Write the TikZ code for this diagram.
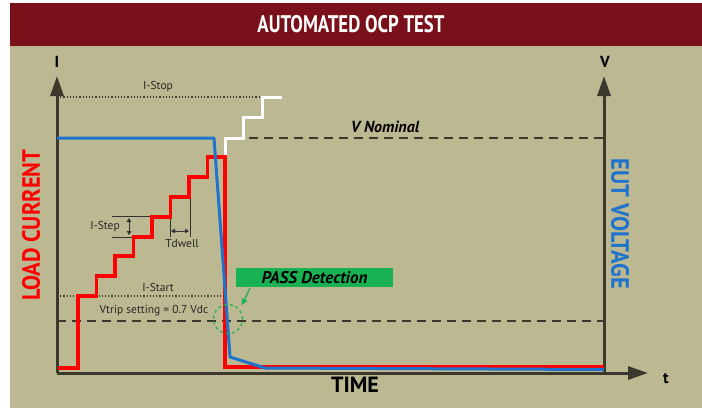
\documentclass[tikz,border=0pt]{standalone}
\usepackage{fontspec}
\setmainfont{PT Sans}
\usetikzlibrary{arrows.meta}
\definecolor{barred}{RGB}{122,17,26}
\definecolor{beige}{RGB}{188,184,146}
\definecolor{axisc}{RGB}{60,56,46}
\definecolor{curblue}{RGB}{30,115,205}
\definecolor{passgreen}{RGB}{24,178,82}
\tikzset{
  axisline/.style={draw=axisc, line width=3pt},
  axtip/.style={-{Triangle[length=20pt,width=13pt]}},
  redline/.style={draw=red, line width=3.5pt, line join=miter},
  blueline/.style={draw=curblue, line width=3pt, line join=round},
  whiteline/.style={draw=white, line width=3pt},
  dotline/.style={draw=axisc, line width=1.2pt, dotted},
  dashline/.style={draw=axisc, line width=1.6pt, dash pattern=on 9pt off 6pt},
  thinline/.style={draw=black!80, line width=0.8pt},
  smalltxt/.style={font=\fontsize{11.5}{13}\selectfont, text=black!85, inner sep=0pt},
  sidelab/.style={font=\bfseries\fontsize{25}{27}\selectfont, inner sep=0pt},
}
\begin{document}
\begin{tikzpicture}[x=1pt,y=-1pt]
\useasboundingbox (0,0) rectangle (702,408);
\fill[white] (0,0) rectangle (702,408);
\fill[barred] (10,3) rectangle (702,46);
\fill[beige] (10,46) rectangle (702,408);
\node[text=white, font=\bfseries\fontsize{24}{26}\selectfont, inner sep=0pt] (title) at (351,24) {\scalebox{0.78}[1]{AUTOMATED OCP TEST}};

% reference lines
\coordinate (istopL) at (57,97);
\coordinate (istopR) at (262,97);
\draw[dotline] (istopL) -- (istopR);
\node[smalltxt] (istop) at (158,87) {I-Stop};
\coordinate (vnomL) at (249,138);
\coordinate (vnomR) at (604,138);
\draw[dashline] (vnomL) -- (vnomR);
\node[font=\bfseries\itshape\fontsize{16}{18}\selectfont, inner sep=0pt] (vnom) at (385,127) {V Nominal};
\coordinate (istartL) at (57,296);
\coordinate (istartR) at (223,296);
\draw[dotline] (istartL) -- (istartR);
\node[smalltxt] (istart) at (158,287) {I-Start};
\coordinate (vtripL) at (57,321);
\coordinate (vtripR) at (604,321);
\draw[dashline] (vtripL) -- (vtripR);
\node[smalltxt] (vtrip) at (154,311) {Vtrip setting = 0.7 Vdc};

% I-Step annotation
\coordinate (is1) at (112,216); \coordinate (is2) at (152,216);
\coordinate (is3) at (112,237); \coordinate (is4) at (133,237);
\draw[thinline] (is1) -- (is2);
\draw[thinline] (is3) -- (is4);
\coordinate (isa) at (129,218); \coordinate (isb) at (129,235);
\draw[thinline, {Triangle[length=4pt,width=4.5pt]}-{Triangle[length=4pt,width=4.5pt]}] (isa) -- (isb);
\node[smalltxt] (istep) at (105,227) {I-Step};

% Tdwell annotation
\coordinate (td1) at (170,218); \coordinate (td2) at (170,237);
\coordinate (td3) at (190,197); \coordinate (td4) at (190,237);
\draw[thinline] (td1) -- (td2);
\draw[thinline] (td3) -- (td4);
\coordinate (tda) at (171,231); \coordinate (tdb) at (189,231);
\draw[thinline, {Triangle[length=4pt,width=4.5pt]}-{Triangle[length=4pt,width=4.5pt]}] (tda) -- (tdb);
\node[smalltxt] (tdwell) at (182,244) {Tdwell};

% axes
\coordinate (O) at (57,373);
\coordinate (Itop) at (57,76);
\coordinate (VB) at (604,373);
\coordinate (Vtop) at (604,76);
\coordinate (tEnd) at (648,373);
\draw[axisline] (O) -- (VB);
\draw[axisline, axtip] (O) -- (Itop);
\draw[axisline, axtip] (VB) -- (Vtop);
\draw[axisline, axtip] (VB) -- (tEnd);
\node[font=\bfseries\fontsize{16}{18}\selectfont, inner sep=0pt] (Ilab) at (57,62) {I};
\node[font=\bfseries\fontsize{16}{18}\selectfont, inner sep=0pt] (Vlab) at (605,62) {V};
\node[font=\bfseries\fontsize{16}{18}\selectfont, inner sep=0pt] (tlab) at (666,379) {t};
\node[font=\bfseries\fontsize{22}{24}\selectfont, inner sep=0pt] (time) at (355,385) {TIME};
\node[sidelab, text=red, rotate=90] (lc) at (31,225) {\scalebox{0.9}[1]{LOAD CURRENT}};
\node[sidelab, text=curblue, rotate=-90] (ev) at (620,224) {\scalebox{0.9}[1]{EUT VOLTAGE}};

% white staircase
\draw[whiteline] (225,160) -- (225,138) -- (243,138) -- (243,117) -- (262,117) -- (262,97) -- (282,97);

% load current (red)
\draw[redline] (58,368) -- (78,368) -- (78,296) -- (96.5,296) -- (96.5,276) -- (115,276) -- (115,256)
  -- (133.5,256) -- (133.5,237) -- (152,237) -- (152,217) -- (170.5,217) -- (170.5,197)
  -- (189,197) -- (189,177) -- (207.5,177) -- (207.5,157) -- (225,157) -- (225,367) -- (604,367);

% EUT voltage (blue)
\draw[blueline] (57,138) -- (214,138) -- (230,357) -- (265,368) -- (604,369.5);

% PASS detection
\node[fill=passgreen, minimum width=157pt, minimum height=19pt, inner sep=0pt,
      font=\bfseries\itshape\fontsize{17}{19}\selectfont] (pass) at (314.5,277.5) {PASS Detection};
\coordinate (pa) at (250,288);
\coordinate (pb) at (242,305);
\draw[passgreen, line width=1.2pt, -{Triangle[length=6pt,width=6pt]}] (pa) -- (pb);
\node[draw=passgreen, dashed, line width=1.2pt, circle, minimum size=29pt, inner sep=0pt] (circ) at (228,319) {};
\end{tikzpicture}
\end{document}
